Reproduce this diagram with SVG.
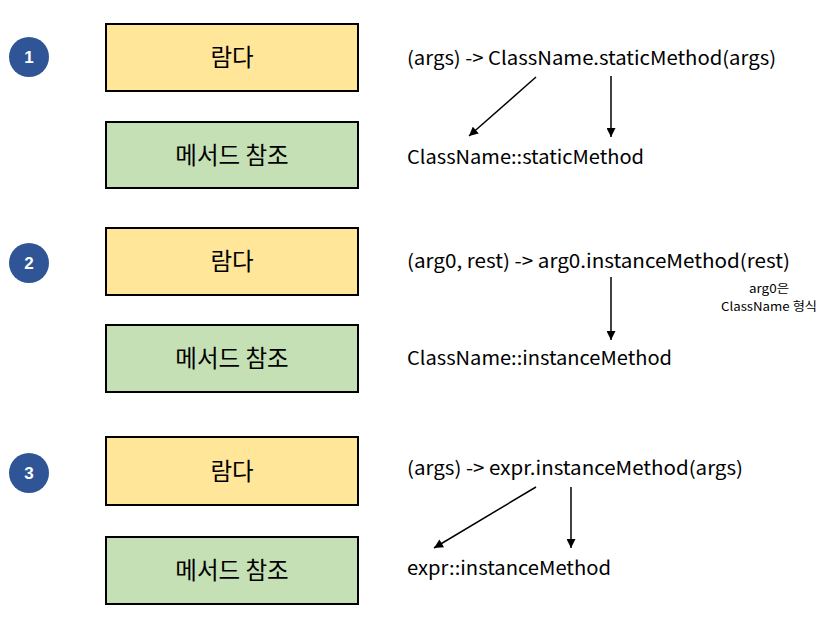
<svg xmlns="http://www.w3.org/2000/svg" width="839" height="618" viewBox="0 0 839 618">
<defs>
<style>
.lam{fill:#FFE699;stroke:#000;stroke-width:2}
.ref{fill:#C5E0B4;stroke:#000;stroke-width:2}
.bt{font-family:"Noto Sans CJK KR","Noto Sans",sans-serif;font-size:23.5px;fill:#000;text-anchor:middle}
.code{font-family:"Noto Sans CJK KR","Noto Sans",sans-serif;font-size:19px;fill:#000}
.note{font-family:"Noto Sans CJK KR","Noto Sans",sans-serif;font-size:12px;fill:#000;text-anchor:middle}
.num{fill:#2F5597}
.nt{font-family:"Liberation Sans",Arial,sans-serif;font-size:17px;font-weight:bold;fill:#fff;text-anchor:middle}
.ar{stroke:#000;stroke-width:1.5;fill:none;marker-end:url(#ah)}
</style>
<marker id="ah" viewBox="0 0 10 10" refX="10" refY="5" markerWidth="10" markerHeight="9" markerUnits="userSpaceOnUse" orient="auto"><path d="M0,0 L10,5 L0,10 z" fill="#000"/></marker>
</defs>
<rect width="839" height="618" fill="#fff"/>
<g id="n1"><circle class="num" cx="29" cy="57" r="20"/><text class="nt" x="29" y="63">1</text></g>
<g id="lam1"><rect class="lam" x="106" y="24" width="252" height="67"/><text class="bt" x="232" y="66">람다</text></g>
<g id="ref1"><rect class="ref" x="106" y="122" width="252" height="66"/><text class="bt" x="232" y="163.5">메서드 참조</text></g>
<g id="t1a"><text class="code" x="407" y="65" textLength="369" lengthAdjust="spacingAndGlyphs">(args) -&gt; ClassName.staticMethod(args)</text></g>
<g id="t1b"><text class="code" x="407" y="164" textLength="237" lengthAdjust="spacingAndGlyphs">ClassName::staticMethod</text></g>

<g id="n2"><circle class="num" cx="29" cy="263" r="20"/><text class="nt" x="29" y="269">2</text></g>
<g id="lam2"><rect class="lam" x="106" y="228" width="252" height="67"/><text class="bt" x="232" y="270">람다</text></g>
<g id="ref2"><rect class="ref" x="106" y="325" width="252" height="67"/><text class="bt" x="232" y="367">메서드 참조</text></g>
<g id="t2a"><text class="code" x="407" y="268" textLength="383" lengthAdjust="spacingAndGlyphs">(arg0, rest) -&gt; arg0.instanceMethod(rest)</text></g>
<g id="t2b"><text class="code" x="407" y="365" textLength="265" lengthAdjust="spacingAndGlyphs">ClassName::instanceMethod</text></g>
<g id="note2"><text class="note" x="769" y="293" textLength="40" lengthAdjust="spacingAndGlyphs">arg0은</text><text class="note" x="769" y="311" textLength="96" lengthAdjust="spacingAndGlyphs">ClassName 형식</text></g>

<g id="n3"><circle class="num" cx="29" cy="473" r="20"/><text class="nt" x="29" y="479">3</text></g>
<g id="lam3"><rect class="lam" x="106" y="437" width="252" height="68"/><text class="bt" x="232" y="479.5">람다</text></g>
<g id="ref3"><rect class="ref" x="106" y="537" width="252" height="67"/><text class="bt" x="232" y="579">메서드 참조</text></g>
<g id="t3a"><text class="code" x="407" y="475" textLength="336" lengthAdjust="spacingAndGlyphs">(args) -&gt; expr.instanceMethod(args)</text></g>
<g id="t3b"><text class="code" x="407" y="575" textLength="204" lengthAdjust="spacingAndGlyphs">expr::instanceMethod</text></g>

<g id="connectors">
<line class="ar" x1="536" y1="77" x2="469" y2="136"/>
<line class="ar" x1="611" y1="76" x2="611" y2="137"/>
<line class="ar" x1="611" y1="277" x2="611" y2="340"/>
<line class="ar" x1="536" y1="487" x2="434" y2="548"/>
<line class="ar" x1="571" y1="487" x2="571" y2="548"/>
</g>
</svg>
